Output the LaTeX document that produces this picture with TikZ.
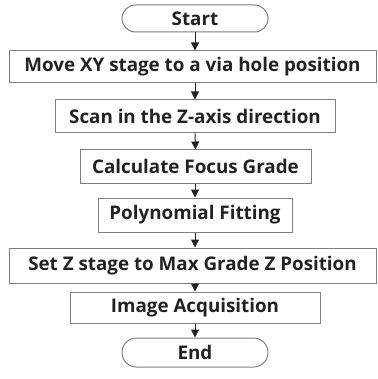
\documentclass[tikz,border=0pt]{standalone}
\usepackage{fontspec}
\setmainfont{Open Sans}
\usetikzlibrary{shapes.misc,arrows.meta}
\definecolor{txt}{HTML}{222222}
\definecolor{edge}{HTML}{7F7F7F}
\tikzset{
  lbl/.style={text=txt, font=\fontsize{18.8}{22}\selectfont\bfseries},
  box/.style={lbl, draw=edge, line width=1pt, rectangle, inner sep=0pt},
  term/.style={lbl, draw=edge, line width=1pt, rounded rectangle, inner sep=0pt},
  arr/.style={draw=txt, line width=1pt, -{Triangle[width=8pt,length=8pt]}}
}
\begin{document}
\begin{tikzpicture}[x=1pt,y=-1pt]
\useasboundingbox[fill=white] (0,0) rectangle (377,379);
\node[term, minimum width=146pt, minimum height=27pt] (start) at (195,18.5) {Start};
\node[box, minimum width=367pt, minimum height=32pt] (move) at (192.5,67) {Move XY stage to a via hole position};
\node[box, minimum width=280pt, minimum height=33pt] (scan) at (195,116.5) {Scan in the Z-axis direction};
\node[box, minimum width=231pt, minimum height=33pt] (calc) at (195.5,166.5) {Calculate Focus Grade};
\node[box, minimum width=194pt, minimum height=34pt] (poly) at (195,215) {Polynomial Fitting};
\node[box, minimum width=367pt, minimum height=35pt] (setz) at (192.5,265.5) {Set Z stage to Max Grade Z Position};
\node[box, minimum width=250pt, minimum height=31pt] (image) at (195,307.5) {Image Acquisition};
\node[term, minimum width=146pt, minimum height=29pt] (end) at (195,352.5) {End};
\draw[arr] (start.south) -- (start.south |- move.north);
\draw[arr] (start.south |- move.south) -- (scan.north);
\draw[arr] (scan.south) -- (calc.south |- calc.north);
\draw[arr] (scan.south |- calc.south) -- (poly.north);
\draw[arr] (poly.south) -- (poly.south |- setz.north);
\draw[arr] (poly.south |- setz.south) -- (image.north);
\draw[arr] (image.south) -- (end.north);
\end{tikzpicture}
\end{document}
